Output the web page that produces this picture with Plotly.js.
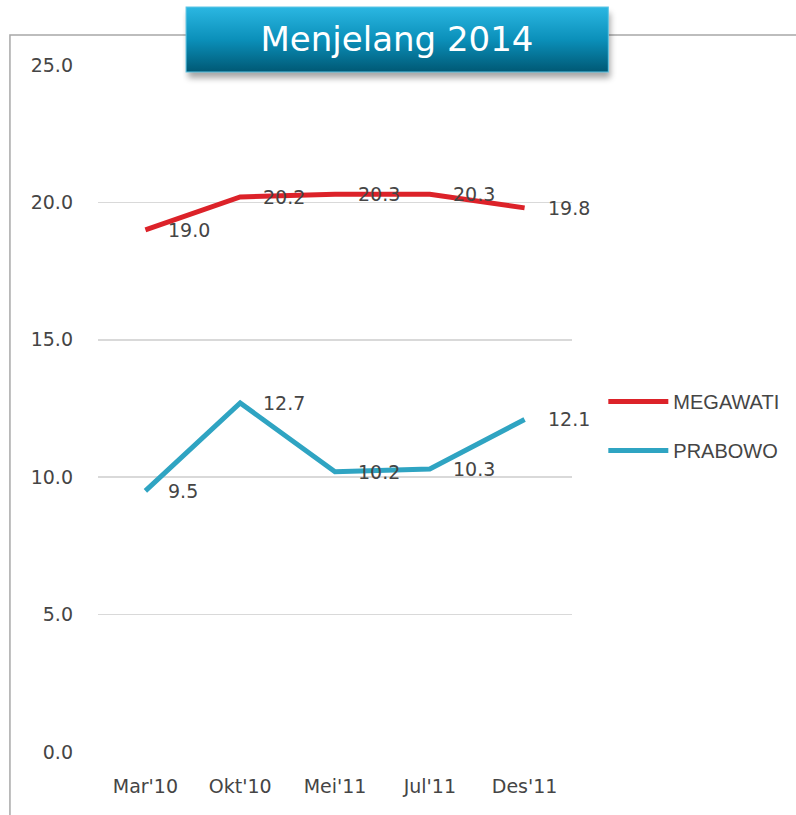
<!DOCTYPE html>
<html>
<head>
<meta charset="utf-8">
<script src="https://cdn.plot.ly/plotly-3.0.1.min.js"></script>
<style>html,body{margin:0;padding:0;background:#fff;}#chart{width:796px;height:815px;}</style>
</head>
<body>
<div id="chart"></div>
<script>
const categories = ["Mar'10", "Okt'10", "Mei'11", "Jul'11", "Des'11"];
const megawati = [19.0, 20.2, 20.3, 20.3, 19.8];
const prabowo = [9.5, 12.7, 10.2, 10.3, 12.1];
const seriesNames = ["MEGAWATI", "PRABOWO"];
const yTicks = [0, 5, 10, 15, 20, 25];
const titleText = "Menjelang 2014";

const colors = ["#dc2229", "#2fa4c2"];
const series = [megawati, prabowo];
const textColor = "#454545";
const fontFam = "DejaVu Sans, Verdana, sans-serif";

const traces = series.map((vals, i) => ({
  x: categories, y: vals, type: 'scatter', mode: 'lines',
  name: seriesNames[i], legendgroup: 'g' + i,
  line: {color: colors[i], width: 5}, hoverinfo: 'skip'
}));

const annotations = [];
series.forEach((vals) => {
  vals.forEach((v, j) => {
    annotations.push({
      x: categories[j], y: v, xref: 'x', yref: 'y',
      text: v.toFixed(1), showarrow: false,
      xanchor: 'left', yanchor: 'middle', xshift: 21,
      font: {family: fontFam, size: 19, color: textColor}
    });
  });
});

const svg = '<svg xmlns="http://www.w3.org/2000/svg" width="440" height="84" viewBox="0 0 440 84">' +
  '<defs><linearGradient id="g" x1="0" y1="0" x2="0" y2="1">' +
  '<stop offset="0" stop-color="#2bb7e2"/><stop offset="0.5" stop-color="#0b90ba"/><stop offset="1" stop-color="#005874"/></linearGradient>' +
  '<filter id="s" x="-10%" y="-20%" width="120%" height="160%"><feGaussianBlur stdDeviation="3"/></filter></defs>' +
  '<rect x="6" y="8" width="422" height="65" fill="#000" opacity="0.35" filter="url(#s)"/>' +
  '<rect x="4" y="2" width="422" height="65" fill="url(#g)" stroke="#5fc6e6" stroke-width="1"/>' +
  '</svg>';
const svgUri = 'data:image/svg+xml;base64,' + btoa(svg);

const L = 98, R = 571.7, T = 65, B = 752;
const W = R - L, H = B - T;
const px = (x) => (x - L) / W;
const py = (y) => (B - y) / H;

const layout = {
  width: 796, height: 815,
  margin: {l: L, r: 796 - R, t: T, b: 815 - B},
  paper_bgcolor: '#ffffff', plot_bgcolor: '#ffffff',
  showlegend: true,
  title: {
    text: titleText, font: {family: fontFam, size: 34, color: '#ffffff'},
    xref: 'container', yref: 'container', x: 397 / 796, y: 1 - 39 / 815,
    xanchor: 'center', yanchor: 'middle'
  },
  xaxis: {
    type: 'category', range: [-0.5, 4.5], showgrid: false, zeroline: false,
    showline: false, ticks: '', ticklabelstandoff: 21,
    tickfont: {family: fontFam, size: 19, color: textColor}, fixedrange: true
  },
  yaxis: {
    range: [0, 25], tickvals: yTicks, ticktext: yTicks.map(v => v.toFixed(1)),
    showgrid: true, gridcolor: '#d9d9d9', gridwidth: 1.5,
    zeroline: false, showline: false, ticks: '', ticklabelstandoff: 24,
    tickfont: {family: fontFam, size: 19, color: textColor}, fixedrange: true
  },
  legend: {
    x: px(603), y: py(382), xanchor: 'left', yanchor: 'top',
    font: {family: 'Liberation Sans, Arial, sans-serif', size: 20, color: textColor},
    tracegroupgap: 20, bgcolor: 'rgba(0,0,0,0)', itemwidth: 60
  },
  annotations: annotations,
  shapes: [{
    type: 'path', xref: 'paper', yref: 'paper', layer: 'below',
    path: 'M' + px(10) + ',' + py(830) + ' L' + px(10) + ',' + py(35) + ' L' + px(810) + ',' + py(35),
    line: {color: '#a8a8a8', width: 1.5}
  }],
  images: [{
    source: svgUri, xref: 'paper', yref: 'paper',
    x: px(182), y: py(5), sizex: 440 / W, sizey: 84 / H,
    xanchor: 'left', yanchor: 'top', sizing: 'stretch', layer: 'above'
  }]
};

Plotly.newPlot('chart', traces, layout, {displayModeBar: false, staticPlot: true});
</script>
</body>
</html>
